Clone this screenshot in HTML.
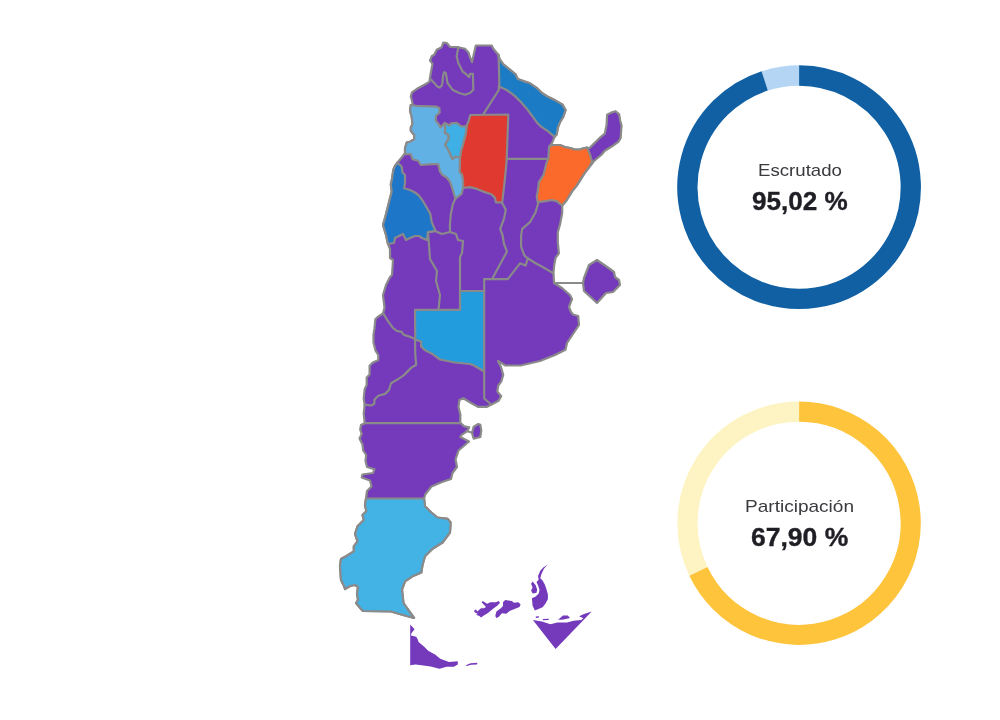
<!DOCTYPE html>
<html><head><meta charset="utf-8">
<style>
html,body{margin:0;padding:0;background:#fff;}
body{width:1000px;height:720px;position:relative;overflow:hidden;font-family:"Liberation Sans",sans-serif;}
.lbl{position:absolute;white-space:nowrap;color:#3a3a3e;font-size:17px;line-height:17px;transform-origin:0 0;will-change:transform;}
.val{position:absolute;white-space:nowrap;color:#1e1e24;font-weight:bold;font-size:25px;line-height:25px;transform-origin:0 0;will-change:transform;-webkit-text-stroke:0.35px #1e1e24;}
</style></head><body>
<svg width="1000" height="720" viewBox="0 0 1000 720" style="position:absolute;left:0;top:0">
<g stroke="#8a8a8a" stroke-width="2.2" stroke-linejoin="round" stroke-linecap="round">
<path fill="#743abb" d="M443.3 42.6 L446.7 43.0 L450.0 46.8 L458.3 47.2 L465.0 48.8 L468.3 52.2 L470.0 57.2 L472.0 62.2 L475.8 45.5 L491.7 45.5 L493.3 48.8 L498.3 54.7 L499.4 58.9 L503.3 64.4 L508.9 68.9 L515.6 74.4 L517.8 78.9 L523.3 81.1 L530.0 83.3 L536.7 87.8 L542.2 93.3 L547.8 96.7 L555.6 100.6 L562.2 104.4 L565.6 110.0 L563.3 116.7 L560.0 122.2 L557.8 127.8 L556.7 134.4 L554.7 136.5 L551.9 143.3 L549.1 146.8 L553.3 145.0 L560.0 145.0 L565.0 147.0 L570.0 148.0 L575.0 149.5 L580.0 149.5 L582.5 148.5 L587.0 147.5 L589.2 148.3 L594.0 143.6 L599.4 138.2 L604.8 133.7 L606.6 124.7 L607.1 114.8 L611.1 112.6 L615.6 111.2 L619.2 114.4 L620.1 120.2 L621.5 125.6 L621.0 132.8 L620.6 138.2 L618.3 141.8 L612.0 146.3 L604.8 150.8 L601.2 155.0 L597.0 158.5 L593.3 161.7 L592.6 163.0 L588.5 168.0 L584.4 173.3 L576.7 185.6 L572.2 191.1 L566.7 200.0 L562.2 205.6 L562.2 213.3 L560.0 224.4 L557.8 232.2 L557.8 242.2 L558.9 253.3 L555.6 257.8 L554.2 265.0 L553.5 272.5 L554.0 283.0 L562.0 288.0 L570.0 295.0 L572.0 299.0 L569.0 307.0 L571.0 312.0 L573.0 314.5 L578.2 316.0 L579.0 325.0 L573.0 334.0 L567.0 343.0 L565.5 349.7 L555.0 355.0 L540.0 361.0 L520.5 365.5 L505.5 365.5 L498.0 361.0 L501.0 367.0 L503.2 374.9 L501.2 381.7 L498.3 385.5 L497.3 391.4 L501.2 396.2 L498.3 401.1 L492.5 404.0 L486.6 406.9 L477.9 406.9 L471.1 403.0 L463.3 398.2 L459.4 400.1 L458.5 406.9 L460.4 414.7 L460.2 422.7 L464.3 426.4 L469.2 427.3 L467.2 431.2 L461.4 435.1 L460.4 437.1 L469.0 441.5 L458.5 450.5 L455.5 459.5 L457.0 467.0 L452.5 473.0 L451.0 479.0 L442.0 482.0 L431.5 486.5 L425.5 494.0 L424.0 498.5 L425.0 506.3 L431.3 512.5 L437.5 517.5 L447.5 518.8 L450.6 522.5 L450.0 532.5 L442.5 542.5 L432.5 548.8 L425.0 556.3 L422.5 565.0 L421.3 572.5 L412.5 576.3 L405.0 581.3 L402.0 589.5 L403.5 603.0 L406.5 607.5 L414.0 618.0 L403.0 615.0 L391.0 611.5 L363.0 611.0 L361.0 609.0 L356.0 603.0 L358.0 600.0 L357.0 594.0 L358.0 587.0 L355.0 585.0 L350.0 586.0 L345.0 589.0 L344.0 586.0 L341.0 580.0 L340.5 573.0 L340.0 566.0 L341.0 559.0 L346.5 556.0 L353.8 551.3 L353.8 546.3 L357.5 541.3 L355.0 533.8 L357.5 526.3 L363.8 520.0 L362.5 515.0 L366.3 511.3 L365.0 505.0 L366.0 498.2 L367.0 491.0 L371.5 486.5 L370.0 480.5 L361.7 477.5 L362.5 474.5 L373.0 473.0 L374.5 469.2 L367.0 467.0 L365.5 461.0 L366.2 455.0 L363.2 450.5 L362.5 444.5 L359.5 438.5 L361.7 434.0 L360.2 429.5 L361.0 425.0 L364.7 423.2 L363.7 413.3 L364.7 404.6 L363.7 398.7 L364.7 389.0 L366.7 385.1 L366.7 377.4 L369.6 374.4 L369.6 365.7 L372.5 362.8 L378.3 360.0 L378.3 355.0 L375.4 350.3 L373.5 342.5 L373.5 334.7 L374.4 328.9 L375.4 319.2 L377.4 317.2 L383.0 313.5 L384.5 307.5 L383.0 295.0 L386.0 285.0 L390.0 277.0 L392.0 275.0 L393.0 260.0 L390.0 258.0 L390.0 249.0 L388.0 244.0 L386.0 235.0 L383.0 225.0 L385.4 216.5 L388.3 205.0 L390.0 198.3 L391.7 191.7 L390.8 184.2 L391.7 180.8 L393.3 170.0 L395.0 165.8 L397.5 162.5 L401.7 157.5 L405.0 153.3 L405.0 148.3 L406.7 142.5 L410.0 141.7 L414.2 139.2 L414.2 135.0 L410.8 130.8 L410.8 127.5 L412.5 124.2 L411.7 116.7 L410.0 110.8 L410.8 105.0 L412.6 104.4 L412.0 100.8 L410.8 96.6 L412.0 92.4 L418.0 88.2 L425.8 84.0 L429.4 81.6 L430.8 73.0 L432.5 63.8 L430.0 60.5 L431.7 56.3 L434.2 54.7 L436.7 49.7 L441.7 47.2Z"/>
<path fill="#1b7bc4" d="M498.6 54.6 L499.4 58.9 L503.3 64.4 L508.9 68.9 L515.6 74.4 L517.8 78.9 L523.3 81.1 L530.0 83.3 L536.7 87.8 L542.2 93.3 L547.8 96.7 L555.6 100.6 L562.2 104.4 L565.6 110.0 L563.3 116.7 L560.0 122.2 L557.8 127.8 L556.7 134.4 L554.7 136.5 L554.4 136.7 L547.8 131.1 L541.1 126.7 L536.7 122.2 L527.8 110.0 L521.1 102.2 L514.4 95.6 L506.7 90.0 L499.4 86.7Z"/>
<path fill="#fb6a2b" d="M549.1 146.8 L553.3 145.0 L560.0 145.0 L565.0 147.0 L570.0 148.0 L575.0 149.5 L580.0 149.5 L582.5 148.5 L587.0 147.5 L590.0 154.4 L592.2 162.2 L588.5 168.0 L584.4 173.3 L576.7 185.6 L572.2 191.1 L566.7 200.0 L562.2 205.6 L556.7 201.1 L551.1 200.0 L545.6 201.1 L537.8 202.2 L536.7 196.7 L537.8 191.1 L538.9 182.2 L543.5 174.9 L546.3 163.7 L548.4 158.0Z"/>
<path fill="#e03a30" d="M470.3 115.0 L508.3 114.5 L506.7 160.0 L505.6 172.0 L504.0 187.1 L502.2 202.4 L495.9 202.4 L495.0 197.9 L491.4 194.3 L483.2 191.6 L476.9 188.9 L469.7 187.1 L463.0 188.0 L463.0 181.0 L462.0 175.0 L459.5 171.7 L460.0 157.5 L460.8 151.7 L462.5 145.8 L464.2 139.2 L465.8 133.3 L466.5 126.0 L468.5 121.5Z"/>
<path fill="#3fb0e6" d="M444.7 122.9 L447.4 124.2 L449.6 125.6 L451.0 123.3 L456.8 122.9 L459.5 125.1 L461.8 126.5 L466.5 126.0 L465.8 133.3 L464.2 139.2 L462.5 145.8 L460.8 151.7 L460.0 157.5 L459.2 157.5 L455.8 156.7 L452.5 159.2 L450.8 155.8 L448.3 150.0 L445.0 145.0 L446.7 141.7 L448.5 139.0 L448.3 135.0 L444.7 132.8 L445.1 128.3Z"/>
<path fill="#62b1e5" d="M410.8 105.0 L416.7 105.8 L436.7 106.7 L439.3 108.0 L439.7 112.5 L436.1 115.7 L435.7 120.6 L438.4 123.8 L440.6 127.4 L444.7 122.9 L445.1 128.3 L444.7 132.8 L448.3 135.0 L448.5 139.0 L446.7 141.7 L445.0 145.0 L448.3 150.0 L450.8 155.8 L452.5 159.2 L455.8 156.7 L459.2 157.5 L460.0 157.5 L459.5 171.7 L462.0 175.0 L463.0 181.0 L463.0 188.0 L461.5 194.0 L456.0 198.3 L455.0 197.5 L453.3 191.7 L451.7 186.7 L450.0 181.7 L446.7 177.5 L442.5 175.0 L440.0 171.7 L438.3 164.2 L431.7 164.2 L420.8 165.0 L418.3 160.8 L412.5 159.2 L410.8 154.2 L405.0 154.2 L405.0 148.3 L406.7 142.5 L410.0 141.7 L414.2 139.2 L414.2 135.0 L410.8 130.8 L410.8 127.5 L412.5 124.2 L411.7 116.7 L410.0 110.8Z"/>
<path fill="#1e76c9" d="M397.5 162.5 L401.7 166.7 L402.5 172.5 L405.0 175.0 L405.0 181.7 L404.2 188.3 L410.0 190.0 L415.0 192.5 L418.3 195.0 L421.7 199.2 L424.2 203.3 L430.3 213.7 L431.7 222.1 L435.5 231.0 L428.0 232.0 L427.0 240.0 L422.0 238.0 L419.0 236.0 L415.0 236.0 L410.0 238.0 L406.0 240.0 L403.0 234.0 L395.0 238.0 L394.0 243.0 L388.0 244.0 L386.0 235.0 L383.0 225.0 L385.4 216.5 L388.3 205.0 L390.0 198.3 L391.7 191.7 L390.8 184.2 L391.7 180.8 L393.3 170.0 L395.0 165.8Z"/>
<path fill="#229cdd" d="M415.0 309.9 L438.5 309.9 L460.0 309.9 L460.0 291.0 L484.2 291.0 L484.2 371.5 L474.0 365.5 L470.0 364.0 L455.0 362.5 L440.0 359.5 L432.7 354.1 L425.0 350.3 L421.1 346.4 L421.1 341.5 L415.3 339.6Z"/>
<path fill="#43b3e6" d="M366.0 498.5 L424.2 498.5 L425.0 506.3 L431.3 512.5 L437.5 517.5 L447.5 518.8 L450.6 522.5 L450.0 532.5 L442.5 542.5 L432.5 548.8 L425.0 556.3 L422.5 565.0 L421.3 572.5 L412.5 576.3 L405.0 581.3 L402.0 589.5 L403.5 603.0 L406.5 607.5 L414.0 618.0 L403.0 615.0 L391.0 611.5 L363.0 611.0 L361.0 609.0 L356.0 603.0 L358.0 600.0 L357.0 594.0 L358.0 587.0 L355.0 585.0 L350.0 586.0 L345.0 589.0 L344.0 586.0 L341.0 580.0 L340.5 573.0 L340.0 566.0 L341.0 559.0 L346.5 556.0 L353.8 551.3 L353.8 546.3 L357.5 541.3 L355.0 533.8 L357.5 526.3 L363.8 520.0 L362.5 515.0 L366.3 511.3 L365.0 505.0Z"/>
<path fill="none" d="M458.3 47.4 L456.7 56.3 L458.3 63.0 L462.5 71.3 L466.7 74.7 L469.2 77.2 L470.0 73.8 L472.9 73.8 L473.3 89.7 L470.0 93.0 L465.0 94.7 L459.2 93.0 L452.5 89.7 L447.5 83.0 L445.8 73.0 L444.2 72.2 L443.2 75.0 L442.6 81.0 L442.0 85.2 L439.6 87.6 L437.2 86.4 L433.6 82.2 L430.0 78.6"/>
<path fill="none" d="M498.8 86.0 L498.8 90.0 L483.1 114.6"/>
<path fill="none" d="M506.7 158.8 L548.4 158.8"/>
<path fill="none" d="M455.5 197.9 L452.6 205.1 L450.8 214.2 L449.9 225.0 L450.0 232.0"/>
<path fill="none" d="M428.0 232.5 L435.0 231.0 L442.0 234.0 L450.0 232.0 L456.0 234.0 L458.0 240.0 L463.0 241.0 L462.0 253.0 L460.0 257.0 L460.0 291.0"/>
<path fill="none" d="M428.0 232.5 L429.0 245.0 L430.0 259.0 L437.0 271.0 L436.0 281.0 L440.0 295.0 L438.5 309.7"/>
<path fill="none" d="M502.2 203.0 L505.8 209.6 L504.0 218.7 L500.2 229.0 L502.5 235.0 L504.0 244.0 L507.0 251.5 L492.0 279.2"/>
<path fill="none" d="M538.5 202.0 L535.6 212.2 L530.0 222.2 L522.2 228.9 L521.1 235.6 L521.1 246.7 L524.4 255.6 L527.8 258.3 L535.6 263.3 L542.2 266.7 L553.0 273.0"/>
<path fill="none" d="M527.8 258.3 L525.6 265.6 L520.0 263.3 L507.8 279.2 L484.2 279.2 L484.2 291.0"/>
<path fill="none" d="M383.2 313.3 L388.0 321.1 L392.9 327.9 L396.8 330.8 L401.6 331.8 L403.6 334.7 L409.4 336.6 L415.0 339.0"/>
<path fill="none" d="M415.0 339.0 L415.3 355.0 L416.2 364.7 L411.4 367.6 L403.6 375.4 L397.8 379.3 L391.0 383.2 L389.0 390.0 L385.1 393.9 L378.3 395.8 L374.4 399.7 L374.4 403.6 L371.5 405.5 L364.5 404.6"/>
<path fill="none" d="M484.2 371.5 L484.2 398.5 L490.0 403.5"/>
<path fill="none" d="M364.7 423.2 L460.7 423.2"/>
<path fill="none" d="M466.5 431.0 L472.5 432.8"/>
<path fill="none" d="M555.0 283.0 L583.5 283.0"/>
<path fill="#743abb" d="M583.0 283.0 L584.0 278.0 L589.0 265.0 L597.0 260.0 L610.0 269.0 L614.0 272.0 L615.0 277.0 L619.0 280.0 L620.0 285.0 L613.0 292.0 L606.0 293.0 L597.0 303.0 L584.0 291.0Z"/>
<path fill="#743abb" d="M473.7 426.7 L478.3 424.0 L480.3 424.7 L481.3 430.7 L480.3 437.0 L473.7 438.7 L472.0 433.0Z"/>
</g>
<g fill="#743abb">
<path d="M410.2 624.4 L414.6 629.2 L411.4 633.2 L411.0 635.6 L416.2 636.8 L417.8 639.6 L418.6 642.0 L424.2 646.8 L428.2 650.8 L435.4 654.8 L440.2 658.8 L449.0 662.0 L457.8 661.2 L457.8 664.4 L453.8 666.8 L446.6 666.8 L439.4 668.8 L430.6 666.4 L423.4 665.6 L415.4 664.4 L410.2 665.2Z"/>
<path d="M465.8 665.2 L470.6 663.2 L477.4 662.8 L477.0 664.4 L471.4 664.8 L466.6 666.0Z"/>
<path d="M473.9 611.0 L476.0 609.3 L477.2 611.5 L481.0 608.2 L483.8 608.2 L486.0 607.1 L481.6 602.2 L482.7 601.0 L487.1 603.8 L490.4 602.2 L495.9 602.2 L498.6 601.0 L500.0 602.7 L497.5 605.5 L493.1 608.8 L487.6 613.2 L483.8 615.4 L481.0 617.6 L479.4 615.9 L476.0 614.8 L477.7 613.7 L475.0 612.6Z"/>
<path d="M495.3 615.9 L496.4 611.5 L500.8 608.2 L503.0 606.0 L503.0 602.2 L505.2 600.0 L508.5 600.5 L511.8 601.0 L514.0 602.7 L518.4 602.2 L520.6 604.4 L519.5 607.1 L515.1 608.8 L509.6 611.0 L506.3 613.7 L501.9 613.2 L498.6 617.0 L496.4 618.1Z"/>
<path d="M547.9 564.6 L544.1 568.4 L542.6 571.5 L541.0 575.3 L540.3 578.3 L542.6 580.6 L544.8 584.4 L546.4 589.0 L547.9 594.4 L547.9 598.9 L545.6 603.5 L542.6 607.3 L534.9 610.4 L532.6 605.8 L531.9 598.2 L535.7 596.6 L538.7 593.6 L539.5 589.8 L538.0 585.2 L536.5 582.1 L538.7 579.8 L538.0 575.9 L540.3 570.7 L543.3 567.6Z"/>
<path d="M532.6 581.4 L535.7 585.2 L537.2 589.8 L536.5 592.8 L532.6 593.6 L531.1 590.5 L532.6 587.5 L531.1 583.7Z"/>
<path d="M532.9 620.0 L542.0 621.4 L550.4 624.2 L557.4 622.5 L567.2 622.5 L573.5 620.7 L581.2 620.0 L583.3 618.3 L579.1 616.2 L584.0 614.1 L591.7 611.6 L555.6 649.1Z"/>
<path d="M558.1 619.7 L563.0 615.5 L567.9 615.5 L570.0 617.9 L565.8 619.0 L561.6 619.7Z"/>
<path d="M535.7 616.5 L539.2 616.3 L538.5 617.8 L535.9 618.0Z"/>
<path d="M542.7 619.0 L549.0 618.8 L548.5 620.0 L543.0 620.2Z"/>
</g>
<path fill="none" stroke="#b5d5f5" stroke-width="20.3" d="M799.10 75.50 A111.7 111.7 0 0 0 764.72 80.92"/><path fill="none" stroke="#1060a3" stroke-width="20.3" d="M799.10 75.50 A111.7 111.7 0 1 1 764.72 80.92"/>
<path fill="none" stroke="#fef4c3" stroke-width="20.2" d="M799.10 411.60 A111.6 111.6 0 0 0 698.42 571.35"/><path fill="none" stroke="#fdc43c" stroke-width="20.2" d="M799.10 411.60 A111.6 111.6 0 1 1 698.42 571.35"/>
</svg>
<div class="lbl" id="t1" style="left:757.5px;top:162px;transform:scaleX(1.096)">Escrutado</div>
<div class="val" id="t2" style="left:751.5px;top:189px;transform:scaleX(1.044)">95,02 %</div>
<div class="lbl" id="t3" style="left:745px;top:498px;transform:scaleX(1.12)">Participación</div>
<div class="val" id="t4" style="left:751px;top:525px;transform:scaleX(1.06)">67,90 %</div>
</body></html>
